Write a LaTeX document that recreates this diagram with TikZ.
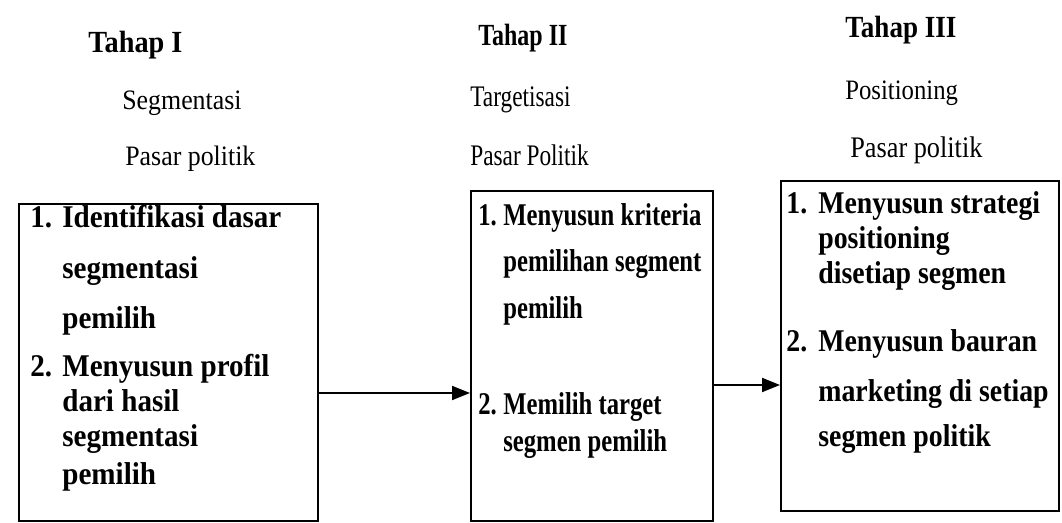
\documentclass[tikz,border=0pt]{standalone}
\usepackage{fontspec}
\setmainfont{Liberation Serif}
% the scan is squeezed unevenly, so each column gets its own width
\newfontfamily\colone[FakeStretch=0.92]{Liberation Serif}
\newfontfamily\coltwo[FakeStretch=0.78]{Liberation Serif}
\newfontfamily\colthree[FakeStretch=0.88]{Liberation Serif}
\usetikzlibrary{arrows.meta}
\begin{document}
\begin{tikzpicture}[x=0.02cm,y=-0.02cm,
  stagebox/.style={draw,line width=1.3pt,anchor=north west,inner sep=0pt},
  head/.style={anchor=base west,inner sep=0pt,font=#1\fontsize{17.5}{20}\selectfont\bfseries},
  sub/.style={anchor=base west,inner sep=0pt,font=#1\fontsize{17}{20}\selectfont},
  item/.style={anchor=base west,inner sep=0pt,font=#1\fontsize{18}{22}\selectfont\bfseries},
  flow/.style={line width=1.1pt,-{Triangle[length=0.36cm,width=0.28cm]}}]
\useasboundingbox (0,0) rectangle (1062,523);
% headings
\node[head=\colone]   (h1) at (88, 53) {Tahap I};
\node[head=\coltwo]   (h2) at (478,46) {Tahap II};
\node[head=\colthree] (h3) at (845,38) {Tahap III};
\node[sub=\colone,font=\colone\fontsize{16}{20}\selectfont] (s1) at (122,110) {Segmentasi};
\node[sub=\coltwo]   (s2) at (470,107) {Targetisasi};
\node[sub=\colthree,font=\colthree\fontsize{16}{20}\selectfont] (s3) at (845,100) {Positioning};
\node[sub=\colone,font=\colone\fontsize{16}{20}\selectfont] (p1) at (125,166) {Pasar politik};
\node[sub=\coltwo]   (p2) at (470,166) {Pasar Politik};
\node[sub=\colthree] (p3) at (850,158) {Pasar politik};
% boxes
\node[stagebox,minimum width=5.98cm,minimum height=6.34cm] (b1) at (18, 203) {};
\node[stagebox,minimum width=4.84cm,minimum height=6.6cm]  (b2) at (470,190) {};
\node[stagebox,minimum width=5.56cm,minimum height=6.6cm]  (b3) at (780,180) {};
% box 1
\node[item=\colone] (n1a) at (30, 228) {1.};
\node[item=\colone] (t1a) at (62, 228) {Identifikasi dasar};
\node[item=\colone] (t1b) at (62, 279) {segmentasi};
\node[item=\colone] (t1c) at (62, 329) {pemilih};
\node[item=\colone] (n1b) at (30, 377) {2.};
\node[item=\colone] (t1d) at (62, 377) {Menyusun profil};
\node[item=\colone] (t1e) at (62, 412) {dari hasil};
\node[item=\colone] (t1f) at (62, 447) {segmentasi};
\node[item=\colone] (t1g) at (62, 484) {pemilih};
% box 2
\node[item=\coltwo] (n2a) at (478,226) {1.};
\node[item=\coltwo] (t2a) at (503,226) {Menyusun kriteria};
\node[item=\coltwo] (t2b) at (503,272) {pemilihan segment};
\node[item=\coltwo] (t2c) at (503,319) {pemilih};
\node[item=\coltwo] (n2b) at (478,415) {2.};
\node[item=\coltwo] (t2d) at (503,415) {Memilih target};
\node[item=\coltwo] (t2e) at (503,452) {segmen pemilih};
% box 3
\node[item=\colthree] (n3a) at (786,214) {1.};
\node[item=\colthree] (t3a) at (818,214) {Menyusun strategi};
\node[item=\colthree] (t3b) at (818,249) {positioning};
\node[item=\colthree] (t3c) at (818,284) {disetiap segmen};
\node[item=\colthree] (n3b) at (786,352) {2.};
\node[item=\colthree] (t3d) at (818,352) {Menyusun bauran};
\node[item=\colthree] (t3e) at (818,402) {marketing di setiap};
\node[item=\colthree] (t3f) at (818,447) {segmen politik};
% arrows
\coordinate (a1) at (0,393);
\coordinate (a2) at (0,385);
\draw[flow] (b1.east |- a1) -- (b2.west |- a1);
\draw[flow] (b2.east |- a2) -- (b3.west |- a2);
\end{tikzpicture}
\end{document}
